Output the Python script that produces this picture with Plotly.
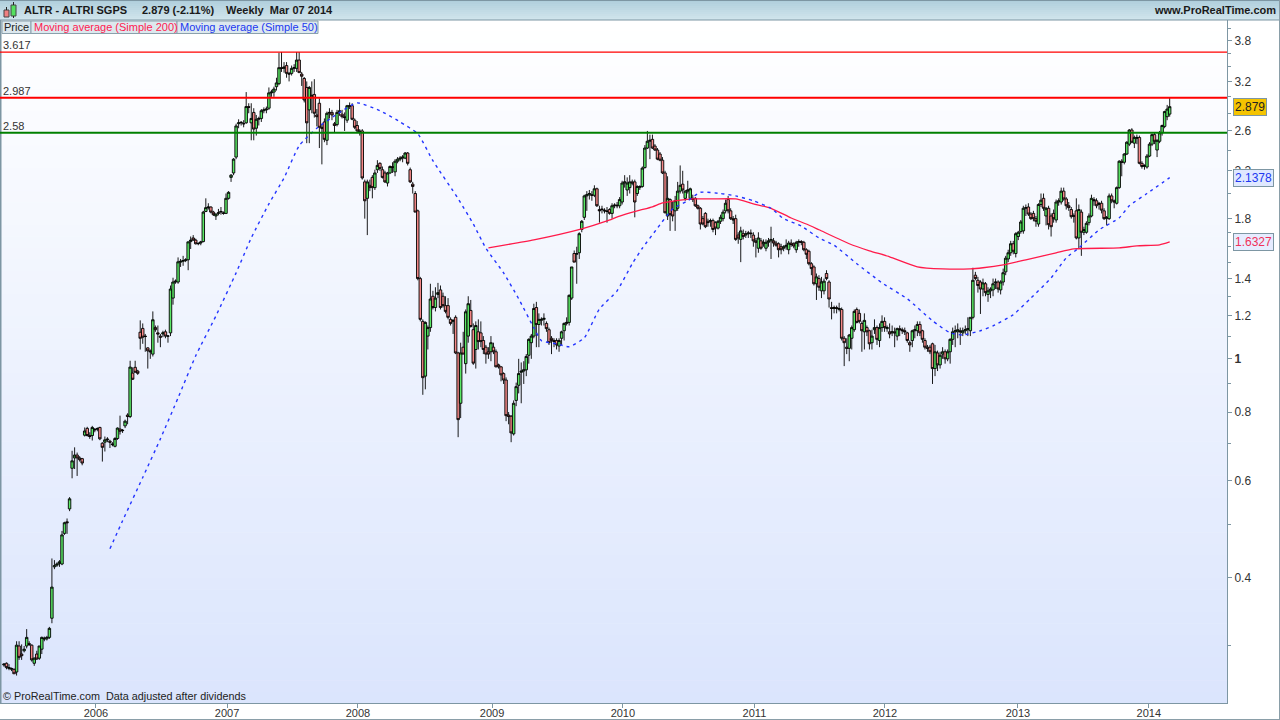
import math
import pandas as pd
import plotly.graph_objects as go

bars_2005 = [(.277,.279,.275,.278),(.279,.280,.272,.274),(.273,.278,.271,.274),(.272,.274,.270,.273),(.272,.273,.267,.267),(.269,.306,.265,.301),(.300,.306,.283,.286),(.290,.302,.283,.288),(.294,.300,.292,.296),(.300,.322,.297,.311),(.303,.306,.300,.302),(.301,.302,.281,.283),(.279,.286,.276,.285),(.290,.294,.283,.284),(.285,.300,.283,.300),(.296,.312,.290,.311),(.310,.312,.306,.309),(.309,.313,.307,.311),(.311,.325,.309,.323),(.337,.433,.330,.384),(.418,.430,.414,.420),(.421,.426,.418,.423),(.424,.430,.418,.427),(.423,.486,.421,.478),(.481,.505,.478,.503),(.505,.512,.480,.503),(.533,.560,.528,.556),(.632,.680,.606,.652),(.660,.690,.630,.668),(.668,.675,.612,.660),(.660,.665,.650,.655),(.658,.660,.640,.646),(.726,.750,.722,.739),(.747,.752,.722,.725),(.725,.735,.715,.722),(.725,.755,.710,.750)]
bars_2006 = [(.742,.748,.735,.744),(.745,.750,.738,.746),(.750,.752,.711,.715),(.702,.705,.650,.690),(.705,.722,.678,.712),(.712,.720,.705,.714),(.708,.712,.688,.705),(.700,.705,.693,.698),(.693,.720,.690,.716),(.716,.750,.712,.748),(.745,.788,.728,.738),(.740,.745,.733,.741),(.755,.775,.748,.770),(.790,.796,.760,.785),(.785,.992,.780,.966),(.942,.965,.915,.918),(.965,.992,.945,.945),(.950,.955,.935,.941),(1.118,1.175,1.04,1.09),(1.136,1.16,1.065,1.095),(1.10,1.11,1.03,1.098),(1.047,1.05,.96,1.034),(1.034,1.04,1.00,1.03),(1.02,1.22,1.01,1.178),(1.14,1.15,1.12,1.13),(1.115,1.15,1.07,1.11),(1.10,1.11,1.05,1.095),(1.11,1.125,1.095,1.115),(1.12,1.13,1.09,1.10),(1.10,1.105,1.07,1.10),(1.115,1.36,1.10,1.34),(1.29,1.405,1.255,1.38),(1.38,1.395,1.37,1.385),(1.38,1.53,1.37,1.502),(1.50,1.52,1.47,1.505),(1.505,1.54,1.477,1.51),(1.51,1.525,1.50,1.515),(1.515,1.635,1.45,1.633),(1.635,1.67,1.585,1.645),(1.66,1.68,1.64,1.645),(1.645,1.655,1.615,1.62),(1.62,1.63,1.61,1.622),(1.625,1.64,1.61,1.632),(1.635,1.86,1.63,1.85),(1.855,1.96,1.85,1.885),(1.885,1.92,1.87,1.89),(1.89,1.895,1.84,1.85),(1.85,1.86,1.82,1.83),(1.82,1.84,1.79,1.835),(1.84,1.875,1.825,1.845),(1.85,1.89,1.83,1.855),(1.845,1.855,1.83,1.84)]
bars_2007 = [(1.84,2.0,1.835,1.96),(1.96,2.02,1.95,2.01),(2.14,2.17,2.10,2.16),(2.18,2.32,2.16,2.31),(2.33,2.68,2.31,2.655),(2.68,2.73,2.63,2.69),(2.69,2.71,2.66,2.695),(2.68,2.72,2.64,2.68),(2.69,3.06,2.68,2.88),(2.88,2.92,2.80,2.87),(2.69,2.92,2.50,2.74),(2.81,2.86,2.5,2.62),(2.63,2.78,2.55,2.73),(2.73,2.76,2.66,2.74),(2.74,2.85,2.70,2.83),(2.83,2.87,2.80,2.84),(2.84,2.88,2.80,2.85),(2.86,3.12,2.84,3.05),(3.05,3.09,3.0,3.06),(3.06,3.13,3.0,3.1),(3.13,3.25,3.08,3.18),(3.17,3.61,3.15,3.39),(3.39,3.62,3.33,3.38),(3.38,3.47,3.32,3.40),(3.42,3.47,3.25,3.31),(3.31,3.33,3.20,3.30),(3.31,3.42,3.28,3.38),(3.38,3.44,3.33,3.39),(3.38,3.62,3.33,3.50),(3.50,3.62,3.32,3.32),(3.30,3.33,3.14,3.27),(3.24,3.26,2.93,2.96),(3.12,3.20,2.47,2.69),(2.84,3.14,2.47,3.12),(3.0,3.2,2.8,3.02),(3.03,3.23,2.75,2.80),(2.78,2.85,2.65,2.76),(2.92,2.98,2.42,2.64),(2.64,2.68,2.26,2.63),(2.70,2.74,2.48,2.51),(2.50,2.82,2.45,2.80),(2.80,2.86,2.74,2.81),(2.81,2.84,2.72,2.78),(2.68,2.70,2.58,2.66),(2.67,2.84,2.65,2.81),(2.81,2.97,2.77,2.83),(2.79,2.84,2.74,2.76),(2.76,2.81,2.6,2.75),(2.72,2.90,2.69,2.89),(2.88,2.93,2.85,2.89),(2.89,2.92,2.72,2.73),(2.72,2.74,2.62,2.64)]
bars_2008 = [(2.66,2.71,2.58,2.60),(2.60,2.62,2.55,2.59),(2.60,2.62,2.12,2.135),(2.10,2.12,1.80,1.94),(1.96,2.12,1.68,2.10),(2.07,2.12,2.02,2.05),(2.14,2.16,1.96,2.05),(2.05,2.21,2.03,2.18),(2.21,2.30,2.18,2.25),(2.27,2.28,2.20,2.22),(2.21,2.24,2.13,2.14),(2.18,2.2,2.09,2.10),(2.09,2.19,2.06,2.18),(2.18,2.25,2.17,2.24),(2.24,2.28,2.18,2.23),(2.19,2.31,2.15,2.29),(2.29,2.33,2.27,2.31),(2.31,2.34,2.29,2.32),(2.32,2.35,2.28,2.33),(2.32,2.38,2.31,2.37),(2.37,2.38,2.25,2.27),(2.21,2.23,2.09,2.10),(2.08,2.10,2.0,2.06),(2.0,2.02,1.85,1.85),(1.86,1.87,1.39,1.40),(1.40,1.41,1.17,1.18),(1.17,1.18,.86,.924),(.93,1.17,.88,1.165),(1.10,1.15,1.04,1.14),(1.14,1.37,1.12,1.285),(1.30,1.33,1.23,1.24),(1.24,1.35,1.22,1.29),(1.31,1.375,1.29,1.32),(1.335,1.36,1.23,1.24),(1.30,1.32,1.24,1.25),(1.25,1.30,1.21,1.22),(1.25,1.29,1.18,1.19),(1.18,1.19,1.15,1.16),(1.17,1.18,1.11,1.175),(1.19,1.20,1.02,1.025),(1.025,1.03,.72,.775),(.83,1.07,.78,1.025),(1.05,1.12,1.02,1.02),(.98,1.23,.94,1.218),(1.10,1.30,1.07,1.26),(1.225,1.28,1.14,1.145),(1.13,1.16,.975,.982),(1.04,1.17,.96,1.15),(1.12,1.18,1.04,1.075),(1.115,1.17,1.05,1.075),(1.08,1.10,1.02,1.04),(1.05,1.06,.98,1.02)]
bars_2009 = [(1.03,1.05,1.0,1.02),(1.03,1.10,.99,1.07),(1.05,1.07,1.02,1.03),(1.03,1.04,.965,.967),(.975,.98,.96,.967),(.967,.97,.91,.935),(.94,.945,.90,.915),(.915,.925,.77,.788),(.79,.80,.76,.785),(.786,.79,.705,.733),(.73,.84,.725,.83),(.84,.905,.82,.89),(.895,1.0,.865,.94),(.945,.985,.83,.95),(.95,.99,.90,.955),(.955,1.02,.93,1.01),(1.015,1.09,.98,1.085),(1.07,1.11,1.0,1.10),(1.10,1.26,1.09,1.235),(1.24,1.27,1.05,1.155),(1.155,1.21,1.05,1.18),(1.175,1.19,1.15,1.18),(1.18,1.21,1.15,1.185),(1.16,1.17,1.12,1.135),(1.13,1.14,1.06,1.07),(1.09,1.10,1.02,1.08),(1.08,1.09,1.05,1.075),(1.08,1.09,1.04,1.06),(1.055,1.09,1.03,1.08),(1.09,1.125,1.06,1.12),(1.125,1.165,1.08,1.16),(1.16,1.19,1.15,1.165),(1.165,1.31,1.15,1.305),(1.29,1.47,1.28,1.47),(1.555,1.575,1.50,1.50),(1.55,1.60,1.37,1.555),(1.56,1.70,1.52,1.69),(1.72,1.79,1.70,1.78),(1.81,1.99,1.79,1.98),(1.98,2.02,1.86,1.99),(1.99,2.03,1.95,2.0),(1.99,2.02,1.94,1.985),(1.985,2.07,1.97,2.04),(2.04,2.05,1.89,1.90),(1.87,1.9,1.77,1.86),(1.875,1.9,1.84,1.87),(1.865,1.88,1.84,1.86),(1.86,1.89,1.77,1.855),(1.87,1.88,1.83,1.84),(1.84,1.92,1.80,1.90),(1.90,1.92,1.88,1.905),(1.905,1.93,1.88,1.90)]
bars_2010 = [(1.90,1.97,1.88,1.95),(1.93,2.11,1.91,2.09),(2.09,2.16,2.05,2.10),(2.03,2.14,1.98,2.09),(2.05,2.16,2.0,2.10),(2.10,2.12,2.07,2.09),(2.10,2.12,1.81,1.93),(2.0,2.07,1.98,2.06),(2.05,2.07,2.03,2.06),(2.06,2.24,2.05,2.225),(2.23,2.45,2.22,2.42),(2.42,2.60,2.41,2.49),(2.49,2.56,2.31,2.50),(2.51,2.56,2.41,2.42),(2.44,2.46,2.39,2.40),(2.40,2.42,2.30,2.31),(2.36,2.38,2.29,2.30),(2.30,2.33,2.17,2.18),(2.18,2.20,1.84,1.845),(1.82,2.15,1.79,1.96),(1.95,1.96,1.71,1.83),(1.87,1.93,1.78,1.82),(1.86,1.98,1.71,1.94),(1.88,2.1,1.86,2.02),(2.02,2.25,2.0,2.07),(2.08,2.2,2.0,2.03),(1.96,2.03,1.94,2.02),(2.02,2.11,2.0,2.03),(1.96,2.05,1.95,2.04),(1.96,1.99,1.93,1.95),(1.96,1.97,1.89,1.90),(1.90,1.91,1.87,1.88),(1.88,1.89,1.72,1.76),(1.80,1.82,1.75,1.76),(1.84,1.85,1.73,1.74),(1.78,1.80,1.74,1.77),(1.78,1.80,1.74,1.785),(1.785,1.80,1.70,1.72),(1.77,1.78,1.68,1.73),(1.73,1.79,1.72,1.78),(1.78,1.83,1.76,1.81),(1.80,1.87,1.78,1.85),(1.86,1.95,1.84,1.92),(1.95,1.98,1.84,1.86),(1.86,1.88,1.79,1.80),(1.80,1.82,1.76,1.79),(1.80,1.83,1.64,1.65),(1.68,1.70,1.62,1.66),(1.65,1.74,1.50,1.71),(1.69,1.72,1.65,1.67),(1.68,1.71,1.66,1.69),(1.69,1.71,1.66,1.695),(1.695,1.72,1.66,1.69)]
bars_2011 = [(1.68,1.70,1.60,1.64),(1.64,1.66,1.53,1.63),(1.59,1.70,1.56,1.66),(1.64,1.66,1.58,1.59),(1.62,1.65,1.60,1.63),(1.59,1.65,1.57,1.63),(1.63,1.66,1.60,1.64),(1.64,1.74,1.52,1.65),(1.64,1.66,1.60,1.625),(1.625,1.64,1.60,1.61),(1.62,1.63,1.53,1.58),(1.60,1.62,1.55,1.58),(1.59,1.61,1.57,1.60),(1.60,1.65,1.58,1.61),(1.58,1.64,1.55,1.625),(1.625,1.65,1.60,1.615),(1.62,1.63,1.59,1.605),(1.58,1.64,1.56,1.63),(1.63,1.65,1.60,1.635),(1.635,1.645,1.61,1.63),(1.63,1.64,1.57,1.58),(1.58,1.59,1.52,1.55),(1.57,1.58,1.48,1.49),(1.49,1.50,1.42,1.46),(1.47,1.48,1.36,1.37),(1.37,1.43,1.28,1.41),(1.40,1.42,1.33,1.35),(1.33,1.41,1.29,1.38),(1.33,1.40,1.31,1.385),(1.43,1.45,1.39,1.40),(1.38,1.39,1.24,1.285),(1.24,1.27,1.18,1.235),(1.235,1.25,1.21,1.24),(1.24,1.25,1.21,1.235),(1.23,1.265,1.22,1.235),(1.23,1.24,1.08,1.09),(1.09,1.10,.97,1.07),(1.05,1.09,1.02,1.045),(1.045,1.11,.99,1.105),(1.09,1.15,1.04,1.14),(1.13,1.23,1.12,1.22),(1.23,1.24,1.16,1.165),(1.21,1.23,1.16,1.17),(1.16,1.17,1.03,1.125),(1.12,1.21,1.04,1.175),(1.14,1.15,1.10,1.12),(1.125,1.13,1.04,1.065),(1.07,1.13,1.04,1.10),(1.13,1.18,1.11,1.14),(1.14,1.15,1.06,1.085),(1.08,1.16,1.05,1.14),(1.14,1.20,1.12,1.17)]
bars_2012 = [(1.17,1.19,1.12,1.14),(1.135,1.15,1.12,1.14),(1.12,1.16,1.09,1.11),(1.115,1.15,1.10,1.12),(1.12,1.14,1.05,1.115),(1.10,1.14,1.08,1.135),(1.135,1.15,1.10,1.13),(1.13,1.14,1.11,1.125),(1.125,1.14,1.105,1.12),(1.115,1.12,1.07,1.08),(1.07,1.08,1.03,1.06),(1.08,1.13,1.05,1.125),(1.125,1.15,1.09,1.13),(1.125,1.17,1.10,1.155),(1.155,1.17,1.10,1.115),(1.125,1.13,1.07,1.085),(1.08,1.09,1.04,1.05),(1.05,1.06,1.03,1.045),(1.05,1.06,1.02,1.03),(1.065,1.07,.90,.96),(.96,1.06,.93,1.03),(1.025,1.035,.95,.975),(.975,1.03,.96,1.015),(1.02,1.05,1.0,1.03),(1.03,1.04,.98,1.0),(1.0,1.04,.99,1.03),(1.03,1.09,.98,1.085),(1.085,1.14,1.06,1.12),(1.12,1.15,1.05,1.125),(1.12,1.16,1.09,1.13),(1.125,1.14,1.06,1.12),(1.115,1.14,1.10,1.125),(1.125,1.15,1.11,1.13),(1.13,1.19,1.10,1.135),(1.125,1.19,1.10,1.19),(1.19,1.465,1.18,1.39),(1.42,1.44,1.39,1.40),(1.39,1.41,1.32,1.36),(1.38,1.39,1.207,1.34),(1.34,1.40,1.30,1.375),(1.37,1.38,1.30,1.32),(1.31,1.35,1.27,1.33),(1.33,1.35,1.29,1.34),(1.335,1.40,1.30,1.37),(1.375,1.40,1.34,1.38),(1.38,1.39,1.32,1.34),(1.335,1.39,1.31,1.38),(1.38,1.46,1.36,1.435),(1.44,1.54,1.42,1.525),(1.52,1.58,1.50,1.56),(1.56,1.64,1.54,1.62),(1.62,1.64,1.55,1.57)]
bars_2013 = [(1.555,1.70,1.53,1.69),(1.67,1.71,1.645,1.70),(1.705,1.79,1.69,1.775),(1.71,1.90,1.69,1.88),(1.88,1.91,1.82,1.885),(1.89,1.92,1.82,1.835),(1.835,1.85,1.79,1.80),(1.84,1.86,1.78,1.80),(1.80,1.82,1.74,1.78),(1.76,1.92,1.74,1.91),(1.91,2.0,1.89,1.945),(1.96,2.0,1.86,1.88),(1.82,1.89,1.75,1.88),(1.88,1.90,1.72,1.755),(1.82,1.84,1.67,1.74),(1.84,1.87,1.77,1.80),(1.79,1.95,1.77,1.93),(1.93,1.96,1.90,1.94),(1.93,2.05,1.91,2.02),(2.02,2.05,1.94,1.955),(1.955,1.97,1.87,1.90),(1.90,1.93,1.86,1.885),(1.87,1.89,1.80,1.815),(1.82,1.84,1.77,1.82),(1.86,1.96,1.65,1.66),(1.66,1.91,1.59,1.87),(1.85,1.87,1.54,1.70),(1.70,1.74,1.68,1.72),(1.70,1.78,1.69,1.765),(1.77,1.84,1.75,1.82),(1.82,1.99,1.81,1.96),(1.95,1.97,1.90,1.94),(1.94,1.96,1.88,1.90),(1.91,1.93,1.87,1.92),(1.92,1.94,1.84,1.865),(1.86,1.88,1.79,1.80),(1.80,1.82,1.75,1.81),(1.80,2.0,1.79,1.98),(1.98,2.0,1.92,1.94),(1.94,1.95,1.88,1.93),(1.92,2.06,1.91,2.05),(2.05,2.30,2.04,2.29),(2.29,2.31,2.15,2.28),(2.28,2.37,2.26,2.36),(2.36,2.49,2.35,2.48),(2.46,2.62,2.44,2.61),(2.61,2.63,2.47,2.48),(2.47,2.55,2.42,2.53),(2.52,2.56,2.46,2.53),(2.53,2.55,2.26,2.27),(2.27,2.29,2.22,2.24),(2.24,2.26,2.21,2.25)]
bars_2014 = [(2.235,2.36,2.22,2.34),(2.34,2.48,2.33,2.46),(2.46,2.57,2.44,2.56),(2.56,2.58,2.46,2.49),(2.40,2.51,2.33,2.50),(2.49,2.60,2.47,2.58),(2.58,2.67,2.55,2.66),(2.65,2.83,2.63,2.82),(2.76,2.90,2.72,2.85),(2.79,2.99,2.76,2.879)]

year_blocks = [("2005-04-29",bars_2005),("2006-01-06",bars_2006),("2007-01-05",bars_2007),("2008-01-04",bars_2008),("2009-01-02",bars_2009),("2010-01-01",bars_2010),("2011-01-07",bars_2011),("2012-01-06",bars_2012),("2013-01-04",bars_2013),("2014-01-03",bars_2014)]

ma50_weeks = [42,47,55,62,69,76,84,92,98,105,111,117,124,132,140,149,157,164,170,180,186,191,198,204,210,213,219,224,230,236,243,249,253,259,265,271,276,284,290,297,304,309,316,323,329,338,348,358,368,375,380,387,392,400,407,415,421,426,434,442,446,453,462]
ma50_values = [.451,.507,.608,.715,.849,1.013,1.197,1.434,1.66,1.915,2.135,2.444,2.63,2.79,2.925,2.83,2.70,2.57,2.295,1.957,1.76,1.59,1.434,1.286,1.139,1.079,1.065,1.052,1.092,1.233,1.33,1.49,1.59,1.73,1.875,1.94,2.01,2.0,1.98,1.94,1.88,1.80,1.745,1.66,1.61,1.49,1.375,1.286,1.173,1.115,1.105,1.125,1.148,1.203,1.29,1.404,1.527,1.592,1.717,1.806,1.90,2.0,2.1378]
ma200_weeks = [192,210,229,239,244,251,257,261,266,273,281,290,297,304,312,318,323,335,343,351,362,372,383,388,396,405,417,424,442,449,458,462]
ma200_values = [1.592,1.647,1.725,1.783,1.82,1.86,1.892,1.923,1.94,1.955,1.955,1.955,1.915,1.88,1.805,1.76,1.718,1.62,1.573,1.534,1.471,1.458,1.458,1.465,1.483,1.515,1.56,1.586,1.592,1.606,1.613,1.6327]

levels = [(3.617,"3.617","#ff0000",1.2),(2.987,"2.987","#ff0000",2),(2.58,"2.58","#008000",2)]
year_labels = ["2006","2007","2008","2009","2010","2011","2012","2013","2014"]
year_ticks = ["2006-01-09","2007-01-08","2008-01-06","2009-01-12","2010-01-10","2011-01-10","2012-01-07","2013-01-10","2014-01-08"]
major_prices = [3.8,3.2,2.6,2.2,1.8,1.4,1.2,1,0.8,0.6,0.4]
major_labels = ["3.8","3.2","2.6","2.2","1.8","1.4","1.2","<b>1</b>","0.8","0.6","0.4"]
minor_prices = [4.0,3.6,3.4,3.0,2.8,2.4,2.0,1.7,1.6,1.5,1.3,1.1,0.9,0.7,0.5,0.3]

dates, opens, highs, lows, closes = [], [], [], [], []
for start, rows in year_blocks:
    s = pd.Timestamp(start)
    for k, (o, h, l, c) in enumerate(rows):
        dates.append(s + pd.Timedelta(days=7 * k))
        opens.append(o); highs.append(h); lows.append(l); closes.append(c)

week0 = pd.Timestamp("2005-04-29")
wk = lambda w: [week0 + pd.Timedelta(days=7 * i) for i in w]

FONT = "Liberation Sans, Arial, sans-serif"
W, H, L, T, B = 1280, 720, 1227, 20, 703
px = lambda x: x / L
py = lambda y: (B - y) / (B - T)

fig = go.Figure()
fig.add_trace(go.Candlestick(
    x=dates, open=opens, high=highs, low=lows, close=closes, whiskerwidth=0,
    increasing=dict(line=dict(color="#000000", width=0.9), fillcolor="#5ae865"),
    decreasing=dict(line=dict(color="#000000", width=0.9), fillcolor="#f58888"),
    showlegend=False, hoverinfo="skip"))
fig.add_trace(go.Scatter(x=wk(ma200_weeks), y=ma200_values, mode="lines",
                         line=dict(color="#ff1a4a", width=1.3, shape="spline", smoothing=0.5), showlegend=False, hoverinfo="skip"))
fig.add_trace(go.Scatter(x=wk(ma50_weeks), y=ma50_values, mode="lines",
                         line=dict(color="#2233ff", width=1.4, dash="3px,4px", shape="spline", smoothing=0.5), showlegend=False, hoverinfo="skip"))

shapes = []
def rect(x0, y0, x1, y1, fill, line=None, layer="above", lw=1):
    shapes.append(dict(type="rect", xref="paper", yref="paper", x0=px(x0), x1=px(x1), y0=py(y0), y1=py(y1),
                       fillcolor=fill, line=dict(color=line or fill, width=lw if line else 0), layer=layer))

# plot background gradient
bands = 60
for i in range(bands):
    f = i / (bands - 1)
    c = f"rgb({round(255 - 36*f)},{round(255 - 26*f)},{round(255 - 2*f)})"
    rect(0, T + (B - T) * i / bands, L, T + (B - T) * (i + 1) / bands + 0.5, c, layer="below")
# header gradient
for i in range(10):
    f = i / 9
    c = f"rgb({round(176 + 32*f)},{round(207 + 21*f)},{round(220 + 16*f)})"
    rect(0, i * 2, W, (i + 1) * 2, c)
shapes.append(dict(type="line", xref="paper", yref="paper", x0=0, x1=px(W), y0=py(20), y1=py(20), line=dict(color="#7d96a3", width=1)))
rect(0, 0, W, 1, "#7d96a3")
rect(0, 20, 1.5, B, "#7d96a3")
rect(W - 1, 0, W, H, "#8a9ea8")
rect(0, H - 1, W, H, "#8a9ea8")

# level lines
for v, label, col, lw in levels:
    shapes.append(dict(type="line", xref="paper", yref="y", x0=0, x1=1, y0=v, y1=v, line=dict(color=col, width=lw), layer="above"))

# legend chips
rect(2, 21, 31, 33.5, "#dce8ee", "#8aa0ac")
rect(31, 21, 177, 33.5, "#dce8ee", "#8aa0ac")
rect(177, 21, 318, 33.5, "#dce8ee", "#8aa0ac")

# header icon
rect(4, 10, 9, 17, "#f08080", "#444444")
rect(11, 5, 16, 16, "#55e05f", "#444444")
for xc, a, b in [(6.5, 7, 10), (13.5, 2, 5), (13.5, 16, 18)]:
    shapes.append(dict(type="line", xref="paper", yref="paper", x0=px(xc), x1=px(xc), y0=py(a), y1=py(b), line=dict(color="#222222", width=1)))

ann = []
def text(x, y, s, size=11, color="#222222", xanchor="left", bold=False):
    ann.append(dict(xref="paper", yref="paper", x=px(x), y=py(y), text=f"<b>{s}</b>" if bold else s, showarrow=False,
                    xanchor=xanchor, yanchor="middle", align="left", xshift=0,
                    font=dict(family=FONT, size=size, color=color), borderpad=0))

text(23, 10, "ALTR - ALTRI SGPS", 11, "#1a1a1a", bold=True)
text(141, 10, "2.879 (-2.11%)", 11, "#1a1a1a", bold=True)
text(225, 10, "Weekly&nbsp;&nbsp;Mar 07 2014", 11, "#1a1a1a", bold=True)
text(1277, 10, "www.ProRealTime.com", 11, "#1a1a1a", xanchor="right", bold=True)
text(3, 27, "Price", 11, "#222222")
text(33, 27, "Moving average (Simple 200)", 11, "#ff2050")
text(179, 27, "Moving average (Simple 50)", 11, "#2038f0")
text(2, 696, "© ProRealTime.com&nbsp;&nbsp;Data adjusted after dividends", 10.8, "#222222")

for v, label, col, lw in levels:
    ann.append(dict(xref="paper", yref="y", x=px(2), y=math.log10(v), text=label, showarrow=False, xanchor="left",
                    yanchor="bottom", yshift=0, font=dict(family=FONT, size=11, color="#333333"), borderpad=0))

for v, label, bg, fg in [(2.879, "2.879", "#f5c400", "#222222"), (2.1378, "2.1378", "#dfe8ff", "#2038f0"), (1.6327, "1.6327", "#e6ecff", "#f0305a")]:
    ann.append(dict(xref="paper", yref="y", x=px(1233), y=math.log10(v), text=label, showarrow=False, xanchor="left",
                    yanchor="middle", bgcolor=bg, bordercolor="#7d96a3", borderwidth=1, borderpad=1,
                    font=dict(family=FONT, size=12, color=fg)))

AXC = "#7d96a3"
fig.update_layout(
    width=W, height=H, autosize=False, margin=dict(l=0, r=W - L, t=T, b=H - B, pad=0),
    paper_bgcolor="#ffffff", plot_bgcolor="#ffffff", boxgap=0.02, boxgroupgap=0,
    shapes=shapes, annotations=ann, showlegend=False, hovermode=False,
    xaxis=dict(type="date", range=["2005-04-18", "2014-08-13"], rangeslider=dict(visible=False), automargin=False,
               tickmode="array", tickvals=year_ticks, ticktext=year_labels, ticks="outside", ticklen=4,
               ticklabelstandoff=-4,
               tickcolor=AXC, showgrid=False, zeroline=False, showline=True, linecolor=AXC, linewidth=1,
               tickfont=dict(family=FONT, size=11, color="#333333")),
    yaxis=dict(type="log", range=[math.log10(0.2362), math.log10(4.140)], side="right", automargin=False,
               tickmode="array", tickvals=major_prices, ticktext=major_labels, ticks="outside", ticklen=4,
               tickcolor=AXC, showgrid=False, zeroline=False, showline=True, linecolor=AXC, linewidth=1,
               tickfont=dict(family=FONT, size=12, color="#333333"),
               minor=dict(tickmode="array", tickvals=minor_prices, ticks="outside", ticklen=3, tickcolor=AXC, showgrid=False)),
)

fig.write_html("out.html", config=dict(displayModeBar=False),
               post_script="document.body.style.margin='0';document.body.style.overflow='hidden';")
